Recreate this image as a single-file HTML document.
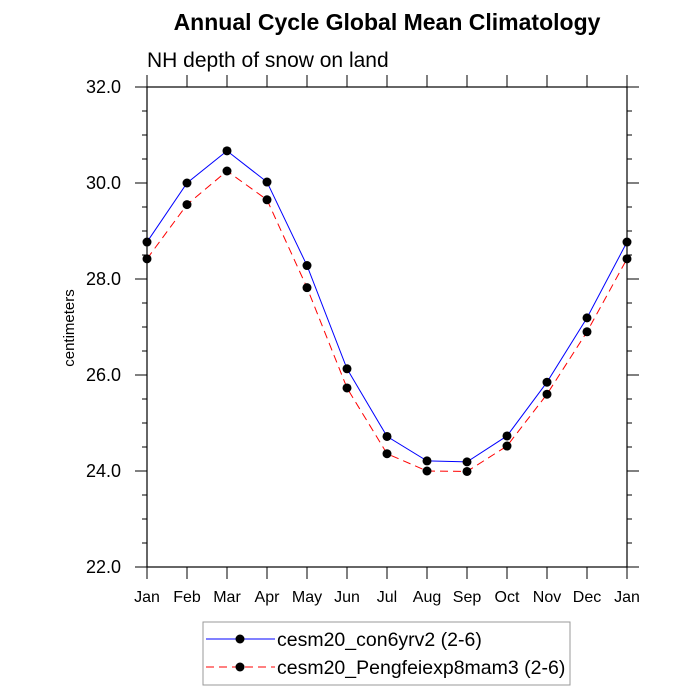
<!DOCTYPE html>
<html><head><meta charset="utf-8"><style>body{margin:0;background:#fff}svg{display:block;font-family:"Liberation Sans",sans-serif}</style></head>
<body>
<svg id="chart" width="700" height="700" xmlns="http://www.w3.org/2000/svg">
<text x="387" y="30" font-size="23" font-weight="bold" text-anchor="middle">Annual Cycle Global Mean Climatology</text>
<text x="147" y="67" font-size="21">NH depth of snow on land</text>
<text transform="translate(74,328) rotate(-90)" font-size="15" text-anchor="middle">centimeters</text>
<g id="axes"></g>
<g id="series"></g>
<g>
<rect x="203" y="622" width="367" height="63" fill="#fff" stroke="#999" stroke-width="1"/>
<line x1="206" y1="639" x2="275" y2="639" stroke="#00f" stroke-width="1"/>
<circle cx="240" cy="639" r="4.5" fill="#000"/>
<text x="277" y="646" font-size="19.5">cesm20_con6yrv2 (2-6)</text>
<line x1="206" y1="667" x2="275" y2="667" stroke="#f00" stroke-width="1" stroke-dasharray="8,5"/>
<circle cx="240" cy="667" r="4.5" fill="#000"/>
<text x="277" y="674" font-size="19.5">cesm20_Pengfeiexp8mam3 (2-6)</text>
</g>
</svg>
<script>
const months = ["Jan","Feb","Mar","Apr","May","Jun","Jul","Aug","Sep","Oct","Nov","Dec","Jan"];
const con6yrv2 = [28.77,30.0,30.67,30.02,28.28,26.13,24.72,24.21,24.19,24.73,25.85,27.19,28.77];
const pengfei = [28.42,29.55,30.25,29.65,27.82,25.73,24.36,24.0,23.99,24.52,25.6,26.9,28.42];
const yTicks = [22,24,26,28,30,32];
const yTickLabels = ["22.0","24.0","26.0","28.0","30.0","32.0"];
const L=147,R=627,T=87,B=567,yMin=22,yMax=32;
const xs=i=>L+(R-L)*i/(months.length-1);
const ys=v=>B-(v-yMin)/(yMax-yMin)*(B-T);
const NS="http://www.w3.org/2000/svg";
function mk(tag,attrs,parent){const e=document.createElementNS(NS,tag);for(const k in attrs)e.setAttribute(k,attrs[k]);parent.appendChild(e);return e;}
const ax=document.getElementById('axes');
const frame=mk('rect',{x:L,y:T,width:R-L,height:B-T,fill:'none',stroke:'#000','stroke-width':1.2},ax);


months.forEach((m,i)=>{const x=xs(i);
mk('line',{x1:x,y1:B,x2:x,y2:B+12,stroke:'#000'},ax);
mk('line',{x1:x,y1:T,x2:x,y2:T-12,stroke:'#000'},ax);
const t=mk('text',{x:x,y:B+35,'font-size':16,'text-anchor':'middle'},ax);t.textContent=m;

});
for(let v=yMin;v<=yMax+1e-9;v+=0.5){const y=ys(v);const major=Math.abs(v/2-Math.round(v/2))<1e-9;const len=major?12:5;
mk('line',{x1:L,y1:y,x2:L-len,y2:y,stroke:'#000'},ax);
mk('line',{x1:R,y1:y,x2:R+len,y2:y,stroke:'#000'},ax);}
yTicks.forEach((v,i)=>{const t=mk('text',{x:L-26,y:ys(v)+6,'font-size':18,'text-anchor':'end'},ax);t.textContent=yTickLabels[i];

});
const sg=document.getElementById('series');
[[con6yrv2,'#00f','none','series-con6yrv2'],[pengfei,'#f00','8,5','series-pengfei']].forEach(([d,c,da,n])=>{
const p=mk('polyline',{points:d.map((v,i)=>xs(i)+','+ys(v)).join(' '),fill:'none',stroke:c,'stroke-width':1,'stroke-dasharray':da},sg);


d.forEach((v,i)=>{const c2=mk('circle',{cx:xs(i),cy:ys(v),r:4.5,fill:'#000'},sg);

});});
</script>
</body></html>
